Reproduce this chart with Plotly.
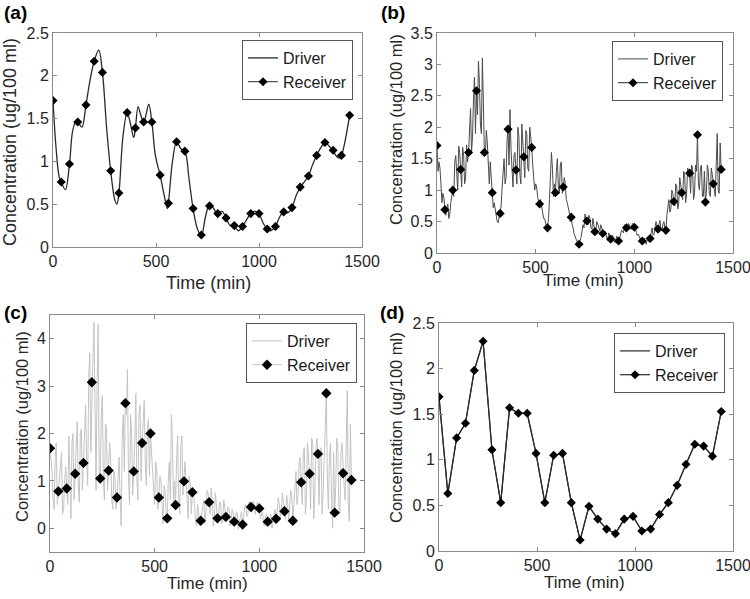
import plotly.graph_objects as go

# ---------------- data ----------------
# Panel (a): smooth driver curve, receiver sampled every 40 min
drv_a_t = [0, 15, 30, 40, 60, 80, 95, 110, 120, 140, 160, 180, 200, 222, 240, 260, 280, 300, 310, 320,
           340, 360, 375, 392, 400, 413, 425, 440, 452, 465, 480, 495, 505, 520, 540, 555, 560, 580, 600,
           620, 640, 660, 680, 700, 720, 740, 760, 780, 800, 820, 840, 860, 880, 900, 920, 940, 960, 980,
           1000, 1020, 1040, 1055, 1080, 1100, 1120, 1140, 1160, 1180, 1200, 1220, 1240, 1260, 1280, 1300,
           1320, 1340, 1360, 1380, 1395, 1410, 1440]
drv_a_v = [1.71, 1.15, 0.82, 0.76, 0.67, 0.97, 1.35, 1.46, 1.46, 1.40, 1.66, 1.95, 2.17, 2.30, 2.04, 1.40,
           0.89, 0.55, 0.50, 0.63, 1.30, 1.57, 1.45, 1.28, 1.39, 1.64, 1.55, 1.45, 1.55, 1.67, 1.46, 1.10,
           0.98, 0.84, 0.60, 0.45, 0.51, 1.00, 1.23, 1.15, 1.12, 0.80, 0.45, 0.22, 0.13, 0.35, 0.50, 0.45,
           0.38, 0.42, 0.34, 0.25, 0.24, 0.19, 0.24, 0.32, 0.39, 0.42, 0.39, 0.28, 0.21, 0.19, 0.24, 0.35,
           0.41, 0.40, 0.46, 0.60, 0.70, 0.76, 0.83, 0.96, 1.07, 1.16, 1.22, 1.18, 1.12, 1.05, 1.04, 1.15,
           1.54]

rec_t = [i * 40 for i in range(37)]
rec_a = [1.71, 0.76, 0.97, 1.46, 1.66, 2.17, 2.04, 0.89, 0.63, 1.57, 1.39, 1.46, 1.46, 0.84, 0.51, 1.23,
         1.12, 0.45, 0.14, 0.48, 0.39, 0.34, 0.25, 0.24, 0.39, 0.39, 0.21, 0.24, 0.41, 0.46, 0.70, 0.83,
         1.07, 1.22, 1.13, 1.07, 1.54]

# Panel (b): noisy driver, read at 0,10,20,... and at 5,15,25,... min
drv_full_t = [i * 10 for i in range(145)]
drv_half_t = [5 + i * 10 for i in range(144)]
drv_b = [1.71, 1.45, 1.10, 0.95, 0.69, 0.72, 0.55, 0.80, 1.00, 1.45, 1.20, 1.70, 1.33, 1.68, 1.10, 1.72,
         1.60, 2.30, 1.85, 2.80, 2.58, 3.05, 2.05, 3.10, 1.60, 1.95, 1.30, 1.45, 0.96, 0.80, 0.55, 0.48,
         0.63, 1.05, 1.50, 1.20, 1.97, 2.28, 1.20, 1.55, 1.32, 2.00, 1.25, 2.05, 1.53, 1.95, 1.35, 2.00,
         1.68, 1.20, 1.10, 0.90, 0.78, 0.75, 0.55, 0.45, 0.40, 0.85, 1.60, 0.90, 0.96, 1.50, 0.95, 1.45,
         1.05, 1.10, 0.80, 0.65, 0.57, 0.40, 0.25, 0.18, 0.14, 0.25, 0.45, 0.62, 0.51, 0.60, 0.40, 0.55,
         0.34, 0.50, 0.38, 0.45, 0.31, 0.35, 0.22, 0.32, 0.22, 0.28, 0.17, 0.27, 0.19, 0.30, 0.35, 0.45,
         0.40, 0.47, 0.38, 0.47, 0.41, 0.33, 0.30, 0.22, 0.19, 0.24, 0.14, 0.22, 0.23, 0.40, 0.30, 0.50,
         0.38, 0.52, 0.35, 0.50, 0.36, 0.75, 0.65, 1.00, 0.82, 1.10, 0.70, 1.20, 0.96, 1.30, 0.80, 1.35,
         1.27, 1.40, 0.85, 1.40, 1.88, 1.00, 1.40, 0.90, 0.81, 1.40, 0.95, 1.35, 1.10, 0.90, 1.90, 0.95,
         1.33]
drv_b_half = [1.30, 1.35, 0.80, 0.88, 0.60, 0.78, 0.62, 0.95, 0.90, 1.55, 1.00, 1.60, 1.05, 1.55, 1.20,
              1.45, 2.05, 1.60, 2.45, 1.90, 2.20, 2.70, 1.90, 2.40, 1.55, 1.75, 1.10, 1.15, 0.72, 0.70,
              0.50, 0.60, 0.75, 1.35, 1.10, 1.80, 1.40, 1.65, 1.05, 1.60, 1.10, 1.85, 1.10, 1.80, 1.20,
              1.90, 1.30, 1.85, 1.40, 1.00, 1.05, 0.80, 0.85, 0.62, 0.55, 0.42, 0.55, 1.20, 1.35, 1.10,
              1.30, 1.05, 1.40, 0.95, 1.20, 0.85, 0.72, 0.50, 0.45, 0.30, 0.22, 0.16, 0.20, 0.35, 0.40,
              0.55, 0.45, 0.55, 0.38, 0.45, 0.36, 0.46, 0.35, 0.40, 0.28, 0.30, 0.20, 0.28, 0.20, 0.24,
              0.18, 0.25, 0.22, 0.36, 0.32, 0.42, 0.36, 0.45, 0.38, 0.45, 0.40, 0.28, 0.27, 0.18, 0.21,
              0.17, 0.21, 0.18, 0.32, 0.28, 0.42, 0.35, 0.46, 0.36, 0.46, 0.40, 0.60, 0.85, 0.70, 0.95,
              0.75, 1.05, 0.80, 1.10, 0.85, 1.25, 0.95, 1.30, 0.95, 1.35, 0.95, 1.30, 1.10, 1.35, 0.90,
              1.30, 0.95, 1.30, 0.90, 1.25, 0.95, 1.40, 1.00, 1.75]
rec_b = [1.71, 0.69, 1.00, 1.33, 1.60, 2.58, 1.60, 0.96, 0.63, 1.97, 1.32, 1.53, 1.68, 0.78, 0.40, 0.96,
         1.05, 0.57, 0.14, 0.51, 0.34, 0.31, 0.22, 0.19, 0.40, 0.41, 0.19, 0.23, 0.38, 0.36, 0.82, 0.96,
         1.27, 1.88, 0.81, 1.10, 1.33]

# Panel (c): very noisy driver
drv_c = [1.69, 1.20, 0.40, 1.80, 0.78, 1.20, 0.30, 1.00, 0.84, 1.95, 0.20, 2.00, 1.15, 2.25, 0.55, 2.10,
         1.38, 2.60, 0.90, 3.70, 3.08, 4.35, 0.80, 4.30, 1.05, 2.80, 0.60, 2.10, 1.22, 1.40, 0.40, 1.10,
         0.65, 1.50, 0.05, 2.40, 2.64, 3.35, 0.50, 2.00, 1.20, 2.85, 0.60, 2.60, 1.80, 2.70, 0.90, 2.30,
         2.00, 1.20, 0.50, 1.20, 0.65, 1.00, 0.10, 0.80, 0.21, 1.40, 2.40, 0.50, 0.49, 1.95, 0.30, 1.95,
         0.99, 1.00, 0.20, 0.90, 0.76, 0.40, 0.05, 0.35, 0.16, 0.50, 0.10, 0.80, 0.55, 0.85, 0.05, 0.75,
         0.21, 0.55, 0.10, 0.60, 0.24, 0.45, 0.05, 0.40, 0.14, 0.35, -0.02, 0.30, 0.08, 0.45, 0.25, 0.55,
         0.45, 0.58, 0.30, 0.55, 0.42, 0.30, 0.10, 0.25, 0.14, 0.20, 0.00, 0.30, 0.20, 0.65, 0.20, 0.75,
         0.36, 0.70, 0.15, 0.80, 0.16, 1.00, 0.50, 1.40, 0.97, 1.60, 0.30, 1.80, 1.15, 1.90, 0.20, 1.70,
         1.57, 1.60, 0.30, 1.40, 2.85, 0.40, 1.80, 0.00, 0.33, 1.90, 0.40, 1.60, 1.16, 0.60, 2.90, 0.15,
         1.02]
drv_c_half = [1.40, 0.60, 1.50, 0.50, 0.90, 1.60, 0.40, 1.30, 0.50, 1.30, 1.80, 0.60, 1.90, 0.90, 2.00,
              0.80, 2.30, 1.40, 3.20, 1.60, 3.60, 2.00, 3.00, 1.20, 2.40, 1.00, 2.20, 0.80, 1.80, 0.60,
              1.20, 0.40, 1.30, 0.60, 1.90, 1.20, 2.40, 1.00, 2.40, 0.70, 1.80, 1.00, 2.40, 1.00, 2.20,
              1.40, 2.10, 1.10, 1.60, 0.70, 1.40, 0.40, 1.10, 0.50, 0.90, 0.30, 1.00, 0.60, 1.80, 1.00,
              1.50, 0.60, 1.70, 0.70, 1.40, 0.50, 1.10, 0.30, 0.80, 0.20, 0.50, 0.05, 0.30, 0.60, 0.35,
              0.75, 0.30, 0.60, 0.25, 0.55, 0.30, 0.55, 0.15, 0.45, 0.20, 0.40, 0.15, 0.35, 0.10, 0.30,
              0.15, 0.35, 0.20, 0.50, 0.30, 0.55, 0.35, 0.55, 0.40, 0.50, 0.20, 0.35, 0.05, 0.30, 0.05,
              0.30, 0.10, 0.40, 0.30, 0.55, 0.40, 0.60, 0.20, 0.55, 0.40, 0.70, 0.50, 1.20, 0.70, 1.50,
              0.50, 1.70, 0.60, 1.40, 0.40, 1.80, 0.70, 1.90, 0.50, 1.70, 0.80, 1.90, 1.00, 1.50, 0.60,
              1.60, 0.90, 1.70, 0.30, 1.80, 0.90, 2.00, 0.50, 2.20]
rec_c = [1.69, 0.78, 0.84, 1.15, 1.38, 3.08, 1.05, 1.22, 0.65, 2.64, 1.20, 1.80, 2.00, 0.65, 0.21, 0.49,
         0.99, 0.76, 0.16, 0.55, 0.21, 0.24, 0.14, 0.08, 0.45, 0.42, 0.14, 0.20, 0.36, 0.16, 0.97, 1.15,
         1.57, 2.85, 0.33, 1.16, 1.02]

# Panel (d): samples every 45 min
rec_d_t = [i * 45 for i in range(33)]
rec_d = [1.69, 0.63, 1.24, 1.40, 1.98, 2.30, 1.11, 0.53, 1.57, 1.51, 1.51, 1.07, 0.53, 1.05, 1.07, 0.53,
         0.12, 0.49, 0.35, 0.24, 0.19, 0.35, 0.38, 0.22, 0.24, 0.40, 0.53, 0.72, 0.95, 1.17, 1.15, 1.04,
         1.53]

x_ticks = [0, 500, 1000, 1500]
panel_labels = ["(a)", "(b)", "(c)", "(d)"]
y_title = "Concentration (ug/100 ml)"
x_title = "Time (min)"


def merge(t1, v1, t2, v2):
    pts = sorted(list(zip(t1, v1)) + list(zip(t2, v2)))
    return [p[0] for p in pts], [p[1] for p in pts]


assert len(drv_b) == len(drv_full_t) and len(drv_c) == len(drv_full_t)
assert len(drv_b_half) == len(drv_half_t) and len(drv_c_half) == len(drv_half_t)
tb, vb = merge(drv_full_t, drv_b, drv_half_t, drv_b_half)
tc, vc = merge(drv_full_t, drv_c, drv_half_t, drv_c_half)

# ---------------- figure ----------------
W, H = 750, 599
FONT = "Liberation Sans, Arial, sans-serif"
fig = go.Figure()


def px_x(p):
    return p / W


def px_y(p):
    return 1 - p / H


mk = dict(symbol="diamond", color="black", size=7)

# (a)
fig.add_trace(go.Scatter(x=drv_a_t, y=drv_a_v, mode="lines", name="Driver",
                         line=dict(color="#2a2a2a", width=1.3, shape="spline", smoothing=1.0),
                         xaxis="x", yaxis="y", legend="legend"))
fig.add_trace(go.Scatter(x=rec_t, y=rec_a, mode="markers", name="Receiver", marker=mk,
                         showlegend=False, xaxis="x", yaxis="y", legend="legend"))
fig.add_trace(go.Scatter(x=[None], y=[None], mode="lines+markers", name="Receiver", marker=mk,
                         line=dict(color="#2a2a2a", width=1), xaxis="x", yaxis="y", legend="legend"))
# (b)
fig.add_trace(go.Scatter(x=tb, y=vb, mode="lines", name="Driver",
                         line=dict(color="#4a4a4a", width=1), xaxis="x2", yaxis="y2", legend="legend2"))
fig.add_trace(go.Scatter(x=rec_t, y=rec_b, mode="markers", name="Receiver", marker=mk,
                         showlegend=False, xaxis="x2", yaxis="y2", legend="legend2"))
fig.add_trace(go.Scatter(x=[None], y=[None], mode="lines+markers", name="Receiver", marker=mk,
                         line=dict(color="#2a2a2a", width=1), xaxis="x2", yaxis="y2", legend="legend2"))
# (c)
fig.add_trace(go.Scatter(x=tc, y=vc, mode="lines", name="Driver",
                         line=dict(color="#c4c4c4", width=1), xaxis="x3", yaxis="y3", legend="legend3"))
fig.add_trace(go.Scatter(x=rec_t, y=rec_c, mode="markers", name="Receiver",
                         marker=dict(symbol="diamond", color="black", size=8),
                         showlegend=False, xaxis="x3", yaxis="y3", legend="legend3"))
fig.add_trace(go.Scatter(x=[None], y=[None], mode="lines+markers", name="Receiver",
                         marker=dict(symbol="diamond", color="black", size=8),
                         line=dict(color="#c8c8c8", width=1), xaxis="x3", yaxis="y3", legend="legend3"))
# (d)
fig.add_trace(go.Scatter(x=rec_d_t, y=rec_d, mode="lines", name="Driver",
                         line=dict(color="#2a2a2a", width=1.2), xaxis="x4", yaxis="y4", legend="legend4"))
fig.add_trace(go.Scatter(x=rec_d_t, y=rec_d, mode="lines+markers", name="Receiver", marker=mk,
                         line=dict(color="#2a2a2a", width=1.2), xaxis="x4", yaxis="y4", legend="legend4"))

axis_common = dict(showgrid=False, zeroline=False, showline=True, linecolor="#8a8a8a", linewidth=1,
                   mirror="ticks", ticks="inside", ticklen=4, tickcolor="#8a8a8a", automargin=False,
                   ticklabeloverflow="allow",
                   tickfont=dict(family=FONT, size=16, color="#262626"))

# panel pixel boxes: (left, right, top, bottom)
boxes = {
    "a": (53, 362, 33, 247),
    "b": (437, 733, 33, 253),
    "c": (50, 364, 315, 552),
    "d": (439, 733, 323, 551),
}
yranges = {"a": [0, 2.5], "b": [0, 3.5], "c": [-0.5, 4.5], "d": [0, 2.5]}
ytickvals = {"a": [0, 0.5, 1, 1.5, 2, 2.5], "b": [0, 0.5, 1, 1.5, 2, 2.5, 3, 3.5],
             "c": [0, 1, 2, 3, 4], "d": [0, 0.5, 1, 1.5, 2, 2.5]}

layout = dict(width=W, height=H, margin=dict(l=0, r=0, t=0, b=0, autoexpand=False),
              paper_bgcolor="white", plot_bgcolor="white", font=dict(family=FONT, color="#262626"))
for i, k in enumerate(["a", "b", "c", "d"]):
    l, r, t, b = boxes[k]
    sx = "" if i == 0 else str(i + 1)
    layout["xaxis" + sx] = dict(axis_common, domain=[px_x(l), px_x(r)], range=[0, 1500],
                                tickvals=x_ticks, anchor="y" + sx)
    layout["yaxis" + sx] = dict(axis_common, domain=[px_y(b), px_y(t)], range=yranges[k],
                                tickvals=ytickvals[k], anchor="x" + sx)

leg_common = dict(bgcolor="white", bordercolor="#555555", borderwidth=1, xanchor="right", yanchor="top",
                  font=dict(family=FONT, size=16, color="#1a1a1a"), itemwidth=30, tracegroupgap=0)
leg_pos = {"legend": (353, 40), "legend2": (723, 41), "legend3": (357, 323), "legend4": (725, 333)}
for name, (lx, ly) in leg_pos.items():
    layout[name] = dict(leg_common, x=px_x(lx), y=px_y(ly))

annotations = []
label_pos = [(2, 12), (379, 12), (2, 312), (378, 312)]
for lab, (lx, ly) in zip(panel_labels, label_pos):
    annotations.append(dict(text="<b>" + lab + "</b>", x=px_x(lx), y=px_y(ly), xref="paper",
                            yref="paper", xanchor="left", yanchor="middle", showarrow=False,
                            font=dict(family=FONT, size=19, color="black")))
ytitle_pos = [(10, 142, 18), (396, 130, 16.5), (22, 427, 16.5), (396, 428, 16.5)]
xtitle_pos = [(208, 283, 18), (583, 280, 17), (207, 583, 17), (584, 582, 17)]
for (yx, yy, ys), (xx, xy, xs) in zip(ytitle_pos, xtitle_pos):
    annotations.append(dict(text=y_title, x=px_x(yx), y=px_y(yy), xref="paper", yref="paper",
                            textangle=-90, showarrow=False, xanchor="center", yanchor="middle",
                            font=dict(family=FONT, size=ys, color="#262626")))
    annotations.append(dict(text=x_title, x=px_x(xx), y=px_y(xy), xref="paper", yref="paper",
                            showarrow=False, xanchor="center", yanchor="middle",
                            font=dict(family=FONT, size=xs, color="#262626")))
layout["annotations"] = annotations
layout["showlegend"] = True
fig.update_layout(**layout)

# remove the browser's default page margin so the 750x599 figure fills the window exactly
fig.write_html("out.html", config={"displayModeBar": False},
               post_script="document.body.style.margin='0';document.body.style.overflow='hidden';")
